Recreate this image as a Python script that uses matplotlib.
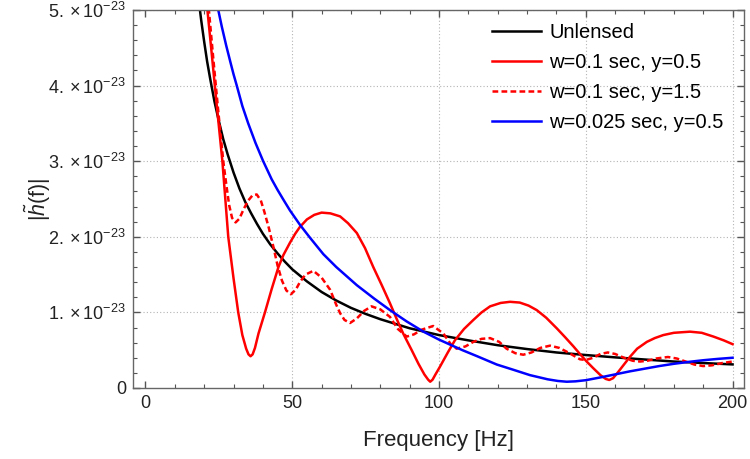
#!/usr/bin/python3

import matplotlib
matplotlib.use('Agg')
import matplotlib.pyplot as plt
from matplotlib.ticker import MultipleLocator, FixedLocator, FixedFormatter
import numpy as np

plt.rcParams['font.family'] = ['Liberation Sans', 'DejaVu Sans']
plt.rcParams['mathtext.fontset'] = 'custom'
plt.rcParams['mathtext.rm'] = 'Liberation Sans'
plt.rcParams['mathtext.it'] = 'Liberation Sans:italic'

SCALE = 1e-23

# values, |h(f)| in units of 1e-23
f_unlensed = [17, 17.5, 18, 19, 20, 21, 22, 23.5, 25, 26.5, 28, 30, 32, 34,
              36, 38, 40, 42.5, 45, 47.5, 50, 55, 60, 65, 70, 75, 80, 90,
              100, 110, 120, 130, 140, 150, 160, 170, 180, 190, 200]
h_unlensed = [5.53, 5.35, 5.17, 4.86, 4.58, 4.32, 4.10, 3.79, 3.53, 3.29,
              3.09, 2.85, 2.64, 2.46, 2.31, 2.17, 2.04, 1.90, 1.78, 1.67,
              1.57, 1.41, 1.27, 1.157, 1.06, 0.98, 0.91, 0.79, 0.70, 0.63,
              0.566, 0.515, 0.47, 0.436, 0.405, 0.377, 0.35, 0.33, 0.312]

f_w01_y05 = [20.5, 21.1, 22.5, 24, 26.2, 28.2, 30, 31.6, 33, 34.3, 35.1, 35.8,
             36.5, 37.3, 38.5, 40.7, 43, 45.3, 47, 49.2, 51, 52.6, 55, 57.5,
             60, 63, 66.3, 69, 72, 74.8, 77.6, 80.5, 83.3, 85.5, 87.8, 90.7,
             93, 95, 96.3, 97, 97.8, 98.8, 100.3, 103, 105.4, 108.5, 111.7,
             114.5, 117.4, 121, 124.2, 127.5, 130.5, 133.3, 136.5, 140.1, 143,
             145.8, 148, 150.3, 152.6, 155, 156.8, 158, 159.3, 160.8, 163,
             165, 167.5, 170.8, 173.5, 176.4, 180, 185.5, 189.5, 193.5, 197,
             200]
h_w01_y05 = [5.4, 5.0, 4.45, 3.85, 3.0, 2.0, 1.45, 1.0, 0.7, 0.52, 0.445,
             0.42, 0.445, 0.53, 0.72, 1.0, 1.31, 1.6, 1.76, 1.92, 2.04, 2.13,
             2.23, 2.29, 2.32, 2.31, 2.27, 2.18, 2.05, 1.85, 1.60, 1.36, 1.12,
             0.92, 0.72, 0.50, 0.32, 0.18, 0.11, 0.083, 0.11, 0.18, 0.28,
             0.47, 0.63, 0.78, 0.9, 1.0, 1.08, 1.125, 1.14, 1.13, 1.09, 1.03,
             0.93, 0.79, 0.67, 0.55, 0.45, 0.35, 0.26, 0.17, 0.12, 0.106,
             0.13, 0.2, 0.31, 0.41, 0.52, 0.61, 0.66, 0.70, 0.73, 0.745, 0.73,
             0.68, 0.63, 0.58]

f_w01_y15 = [21.0, 21.6, 23, 24.7, 26.5, 27.5, 28.5, 29.5, 30.7, 32, 33.5, 35,
             36.5, 37.9, 39.3, 40.5, 42, 43.5, 45, 46.5, 48, 49.5, 51.2, 52.6,
             54.5, 57.2, 60, 62.9, 65, 66.3, 67.8, 69.7, 72, 74.5, 77, 80,
             83.3, 86, 89, 91.5, 94, 98, 101.5, 104, 106, 109, 111.7, 114.5,
             117.4, 120.5, 123, 126, 128.7, 131.5, 134.5, 137.8, 141, 143.5,
             145.8, 148, 150, 152.5, 155, 157.5, 160, 163, 166, 168.5, 171,
             174, 178, 181, 184, 187, 190, 193, 196.5, 200]
h_w01_y15 = [5.4, 5.0, 4.4, 3.7, 3.0, 2.7, 2.42, 2.25, 2.19, 2.24, 2.37, 2.48,
             2.55, 2.56, 2.48, 2.33, 2.12, 1.88, 1.62, 1.42, 1.29, 1.24, 1.30,
             1.40, 1.50, 1.55, 1.46, 1.30, 1.10, 0.99, 0.90, 0.86, 0.92, 1.02,
             1.08, 1.04, 0.94, 0.78, 0.68, 0.71, 0.77, 0.82, 0.72, 0.58, 0.52,
             0.55, 0.61, 0.65, 0.66, 0.61, 0.52, 0.46, 0.44, 0.47, 0.53, 0.56,
             0.53, 0.48, 0.43, 0.38, 0.37, 0.40, 0.45, 0.47, 0.45, 0.40, 0.36,
             0.35, 0.36, 0.39, 0.41, 0.39, 0.35, 0.31, 0.29, 0.30, 0.33, 0.35]

f_w0025_y05 = [24.2, 24.8, 26, 27.5, 29, 30, 31.1, 33, 35, 37.5, 40.1, 43, 45,
               47, 49.2, 52.6, 56, 60.6, 65, 72, 78, 83.3, 89, 94.7, 100,
               103.7, 108, 113, 119.7, 125, 131, 137, 140.5, 143.5, 146.5,
               150, 155, 160, 165, 170, 175, 180, 185, 190, 195, 200]
h_w0025_y05 = [5.12, 5.0, 4.78, 4.53, 4.30, 4.15, 4.0, 3.73, 3.50, 3.24, 3.0,
               2.76, 2.62, 2.49, 2.35, 2.16, 1.99, 1.77, 1.60, 1.36, 1.18,
               1.03, 0.88, 0.745, 0.64, 0.575, 0.50, 0.42, 0.31, 0.245, 0.17,
               0.115, 0.093, 0.083, 0.088, 0.103, 0.14, 0.18, 0.22, 0.255,
               0.29, 0.32, 0.345, 0.367, 0.385, 0.40]

labels = ['Unlensed', 'w=0.1 sec, y=0.5', 'w=0.1 sec, y=1.5',
          'w=0.025 sec, y=0.5']
y_ticks = [0, 1, 2, 3, 4, 5]
y_ticklabels = ['0'] + [r'$%d.\times10^{-23}$' % k for k in y_ticks[1:]]
x_ticks = [0, 50, 100, 150, 200]

fig = plt.figure(figsize=(7.5, 4.59), dpi=100)
ax = fig.add_axes([0.1773, 0.1547, 0.992 - 0.1773, 0.9782 - 0.1547])

lw = 1.8
ax.plot(f_unlensed, np.array(h_unlensed) * SCALE, color='black', lw=lw,
        label=labels[0])
ax.plot(f_w01_y05, np.array(h_w01_y05) * SCALE, color='#ff0000', lw=lw,
        label=labels[1])
ax.plot(f_w01_y15, np.array(h_w01_y15) * SCALE, color='#ff0000', lw=lw,
        ls=(0, (2.3, 1.3)), label=labels[2])
ax.plot(f_w0025_y05, np.array(h_w0025_y05) * SCALE, color='#0000ff', lw=lw,
        label=labels[3])

ax.set_xlim(-4.26, 203.9)
ax.set_ylim(0, 5 * SCALE)

for xv in x_ticks[1:]:
    ax.axvline(xv, color='#b4b4b4', lw=0.8, ls=(0, (1, 2)), zorder=0)
for yv in y_ticks[1:]:
    ax.axhline(yv * SCALE, color='#b4b4b4', lw=0.8, ls=(0, (1, 2)), zorder=0)

ax.xaxis.set_major_locator(FixedLocator(x_ticks))
ax.xaxis.set_minor_locator(MultipleLocator(10))
ax.yaxis.set_major_locator(FixedLocator([v * SCALE for v in y_ticks]))
ax.yaxis.set_major_formatter(FixedFormatter(y_ticklabels))
ax.yaxis.set_minor_locator(MultipleLocator(0.2 * SCALE))

ax.tick_params(which='both', direction='in', top=True, right=True,
               color='#555555', labelsize=13, labelcolor='#222222', pad=5)
ax.tick_params(which='major', length=5, width=1)
ax.tick_params(which='minor', length=3, width=0.8)
for s in ax.spines.values():
    s.set_color('#666666')
    s.set_linewidth(1.0)

ax.set_xlabel('Frequency [Hz]', fontsize=16, color='#222222', labelpad=13)
ax.set_ylabel(r'$|\tilde{h}(\mathrm{f})|$', fontsize=15.5, color='#222222',
              labelpad=-3)

ax.legend(loc='upper left', bbox_to_anchor=(0.5876, 0.966), frameon=False,
          fontsize=14.5, handlelength=2.45, handletextpad=0.4,
          labelspacing=0.55, borderpad=0, borderaxespad=0)

fig.savefig('out.png', dpi=100)
